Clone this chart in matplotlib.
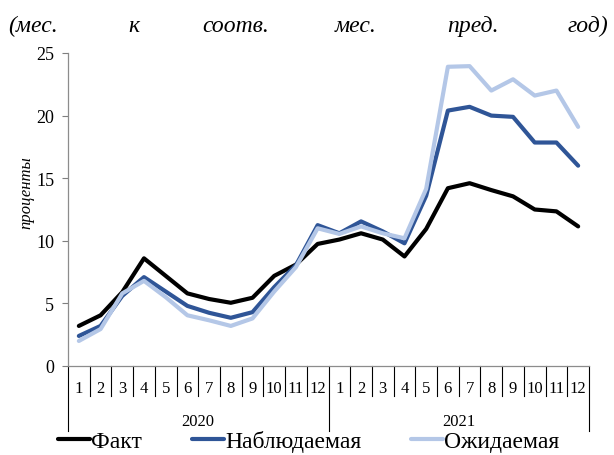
import matplotlib
matplotlib.use("Agg")
import matplotlib.pyplot as plt
import matplotlib.transforms as mtransforms

plt.rcParams['font.family'] = ['Liberation Serif', 'DejaVu Serif']

# Monthly values, Jan 2020 .. Dec 2021 (percent, y/y)
months = [str(m) for m in range(1, 13)] * 2
years = ["2020", "2021"]
fact = [3.2, 4.05, 5.9, 8.6, 7.2, 5.8, 5.35, 5.05, 5.45, 7.2, 8.1, 9.75,
        10.1, 10.6, 10.1, 8.75, 10.95, 14.2, 14.6, 14.05, 13.55, 12.5, 12.35, 11.15]
observed = [2.4, 3.2, 5.6, 7.1, 5.95, 4.8, 4.25, 3.85, 4.3, 6.3, 8.05, 11.25,
            10.6, 11.55, 10.75, 9.8, 13.6, 20.4, 20.7, 20.0, 19.9, 17.85, 17.85, 16.0]
expected = [2.0, 2.95, 5.8, 6.8, 5.5, 4.05, 3.65, 3.2, 3.8, 5.95, 7.9, 11.0,
            10.55, 11.15, 10.6, 10.2, 14.15, 23.9, 23.95, 22.0, 22.9, 21.6, 22.0, 19.1]
series_names = ["Факт", "Наблюдаемая", "Ожидаемая"]
yticks = [0, 5, 10, 15, 20, 25]

W, H = 614, 456
fig = plt.figure(figsize=(W / 100, H / 100), dpi=100)
ax_l, ax_r, ax_t, ax_b = 68, 589, 54, 367
ax = fig.add_axes([ax_l / W, (H - ax_b) / H, (ax_r - ax_l) / W, (ax_b - ax_t) / H])

x = list(range(len(months)))
colors = ["#000000", "#2f5597", "#b4c7e7"]
lines = []
for vals, c, name in zip([fact, observed, expected], colors, series_names):
    ln, = ax.plot(x, vals, color=c, lw=3.0, solid_joinstyle="round",
                  solid_capstyle="round", label=name)
    lines.append(ln)

ax.set_xlim(-0.5, len(months) - 0.5)
ax.set_ylim(0, 25)
ax.set_yticks(yticks)
ax.set_yticklabels([str(v) for v in yticks], fontsize=13)
ax.tick_params(axis="y", direction="out", length=4, width=0.8, color="#7f7f7f", pad=6)
ax.set_xticks([])
for s in ("top", "right"):
    ax.spines[s].set_visible(False)
for s in ("left", "bottom"):
    ax.spines[s].set_color("#8c8c8c")
    ax.spines[s].set_linewidth(0.9)

w_ax, h = ax_r - ax_l, ax_b - ax_t
ax.set_ylabel("проценты", fontsize=12, style="italic")
ax.yaxis.set_label_coords((34 - ax_l) / w_ax, (ax_b - 193) / h)

# Two-level category axis: month cells and year groups
trans = mtransforms.blended_transform_factory(ax.transData, ax.transAxes)
month_depth = 30 / h
year_depth = 65 / h
for i in range(len(months) + 1):
    depth = year_depth if i % 12 == 0 else month_depth
    ax.plot([i - 0.5, i - 0.5], [0, -depth], transform=trans, color="black",
            lw=0.8, clip_on=False)
for i, m in enumerate(months):
    ax.text(i, -22 / h, m, transform=trans, ha="center", va="center", fontsize=12)
for k, y in enumerate(years):
    ax.text(k * 12 + 5.5, -55 / h, y, transform=trans, ha="center", va="center",
            fontsize=12)

# Subtitle words spread across the full width
sub_words = ["(мес.", "к", "соотв.", "мес.", "пред.", "год)"]
sub_x = [8, 128, 202, 335, 447, 568]
for wd, px in zip(sub_words, sub_x):
    fig.text(px / W, (H - 32) / H, wd, ha="left", va="baseline", fontsize=17,
             style="italic")

fig.legend(handles=lines, loc="center left", bbox_to_anchor=(58 / W, (H - 442) / H),
           ncol=3, frameon=False, fontsize=17, handlelength=1.36,
           handletextpad=0.05, columnspacing=2.1, borderpad=0, borderaxespad=0)

fig.savefig("out.png", dpi=100)
